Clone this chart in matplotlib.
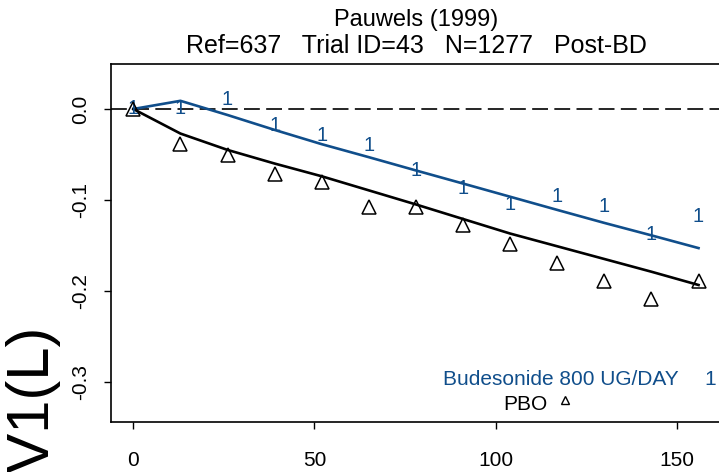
import matplotlib
matplotlib.use("Agg")
import matplotlib.pyplot as plt

plt.rcParams['font.family'] = ['Liberation Sans', 'DejaVu Sans']

weeks = [0, 13, 26, 39, 52, 65, 78, 91, 104, 117, 130, 143, 156]
bud_obs = [0.001, 0.001, 0.010, -0.018, -0.029, -0.040, -0.068, -0.088,
           -0.105, -0.096, -0.1075, -0.1375, -0.118]
bud_fit = [0.0, 0.009, -0.0066, -0.023, -0.0387, -0.053, -0.0676, -0.082,
           -0.0965, -0.111, -0.1253, -0.139, -0.153]
pbo_obs = [0.0, -0.039, -0.051, -0.071, -0.080, -0.108, -0.108, -0.128,
           -0.149, -0.169, -0.189, -0.209, -0.189]
pbo_fit = [0.0, -0.027, -0.045, -0.060, -0.074, -0.0895, -0.105, -0.121,
           -0.137, -0.151, -0.165, -0.179, -0.1936]
xticks = [0, 50, 100, 150]
yticks = [0.0, -0.1, -0.2, -0.3]
ytick_labels = ['0.0', '-0.1', '-0.2', '-0.3']
bud_label = 'Budesonide 800 UG/DAY'
pbo_label = 'PBO'
title1 = 'Pauwels (1999)'
title2 = 'Ref=637   Trial ID=43   N=1277   Post-BD'
ylabel = 'FEV1(L)'

BLUE = '#104E8B'

W, H = 719, 472
fig = plt.figure(figsize=(W / 100, H / 100), dpi=100)
ax = fig.add_axes([111 / W, (H - 422) / H, (721 - 111) / W, (422 - 64) / H])
ax.set_xlim(-6.16, 162.2)
ax.set_ylim(-0.3443, 0.0495)

ax.axhline(0, color='black', lw=1.2, dashes=(9.5, 3.8), zorder=1)

ax.plot(weeks, bud_fit, color=BLUE, lw=1.9, zorder=3)
ax.plot(weeks, pbo_fit, color='black', lw=1.9, zorder=3)
for x, y in zip(weeks, bud_obs):
    ax.text(x, y, '1', color=BLUE, fontsize=14.5, ha='center', va='center', zorder=4)
ax.plot(weeks, pbo_obs, linestyle='none', marker='^', markersize=10.5,
        markerfacecolor='none', markeredgecolor='black', markeredgewidth=1.1, zorder=4)

# legend
ax.text(150.6, -0.298, bud_label, color=BLUE, fontsize=15, ha='right', va='center')
ax.text(159.2, -0.298, '1', color=BLUE, fontsize=15, ha='center', va='center')
ax.text(114.2, -0.3256, pbo_label, color='black', fontsize=15, ha='right', va='center')
ax.plot([119.2], [-0.320], linestyle='none', marker='^', markersize=5.5,
        markerfacecolor='none', markeredgecolor='black', markeredgewidth=1.0)

ax.set_xticks(xticks)
ax.set_xticklabels([str(v) for v in xticks])
ax.set_yticks(yticks)
ax.set_yticklabels(ytick_labels, rotation=90, va='center')
ax.tick_params(axis='both', direction='out', length=5, width=1.0, labelsize=15)
ax.tick_params(axis='x', pad=16)
ax.tick_params(axis='y', pad=10)
for s in ['left', 'top', 'bottom', 'right']:
    ax.spines[s].set_linewidth(1.2)

fig.text(416 / W, 1 - 20 / H, title1, fontsize=17, ha='center', va='center')
fig.text(416 / W, 1 - 46 / H, title2, fontsize=18, ha='center', va='center')

fig.text(44 / W, 1 - 322 / H, ylabel, fontsize=43, rotation=90,
         rotation_mode='anchor', ha='right', va='baseline')

fig.savefig('out.png', dpi=100)
